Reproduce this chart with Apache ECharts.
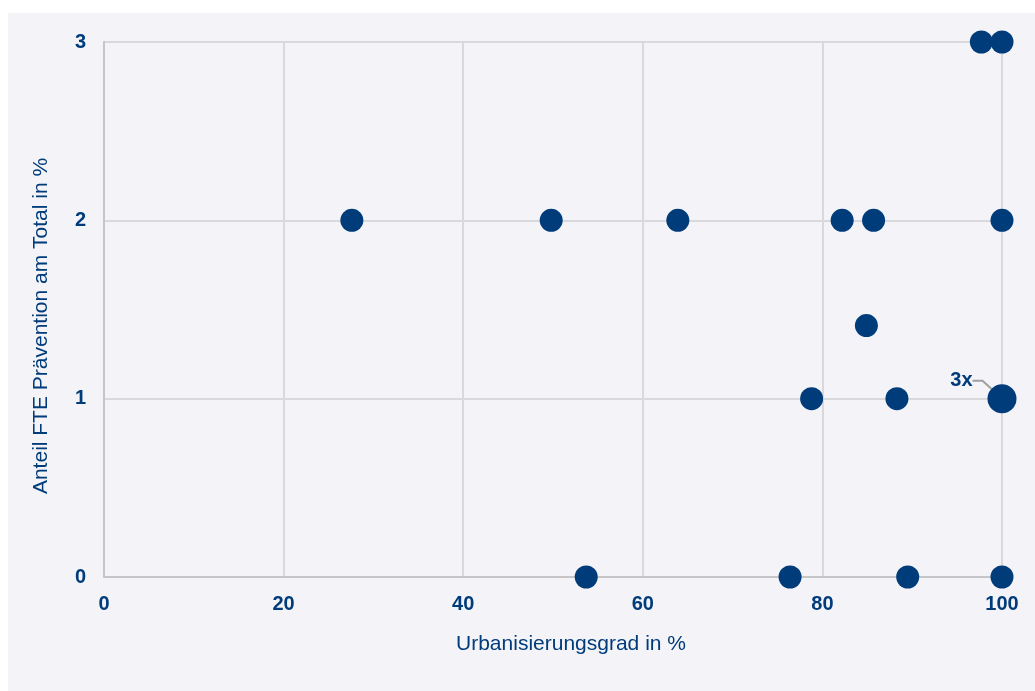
<!DOCTYPE html>
<html>
<head>
<meta charset="utf-8">
<script src="https://cdn.jsdelivr.net/npm/echarts@6/dist/echarts.min.js"></script>
<style>
    html, body { margin: 0; padding: 0; background: #ffffff; }
    #box { position: absolute; left: 8px; top: 13px; width: 1027px; height: 678px; }
</style>
</head>
<body>
<div id="box"></div>
<script>
// Urbanisierungsgrad vs. Anteil FTE Prävention ------------------------------------------
var urbanisierung = [97.7, 100, 27.6, 49.8, 63.9, 82.2, 85.7, 100, 84.9, 78.8, 88.3, 100, 53.7, 76.4, 89.5, 100];
var anteilFte = [3, 3, 2, 2, 2, 2, 2, 2, 1.41, 1, 1, 1, 0, 0, 0, 0];
var anzahl = [1, 1, 1, 1, 1, 1, 1, 1, 1, 1, 1, 3, 1, 1, 1, 1];   // Anzahl überlagerter Punkte
var xTicks = [0, 20, 40, 60, 80, 100];
var yTicks = [0, 1, 2, 3];

var blau = '#003b7a';
var fontFam = '"Liberation Sans", Arial, sans-serif';

var punkte = urbanisierung.map(function (x, i) {
    var item = { value: [x, anteilFte[i], anzahl[i]] };
    if (anzahl[i] > 1) {
        item.label = {
            show: true,
            position: 'left',
            formatter: anzahl[i] + 'x',
            color: blau,
            fontWeight: 'bold',
            fontSize: 20,
            fontFamily: fontFam,
            padding: [0, 10, 0, 0]
        };
        item.labelLine = {
            show: true,
            length2: 10,
            lineStyle: { color: '#a0a0a0', width: 2 }
        };
    }
    return item;
});

var myChart = echarts.init(document.getElementById('box'));
var option = {
    backgroundColor: '#f3f3f8',
    animation: false,
    grid: {
        left: 96,
        right: 33,
        top: 29,
        bottom: 114
    },
    xAxis: {
        type: 'value',
        min: xTicks[0],
        max: xTicks[xTicks.length - 1],
        interval: xTicks[1] - xTicks[0],
        name: 'Urbanisierungsgrad in %',
        nameLocation: 'middle',
        nameGap: 57,
        nameTextStyle: { color: blau, fontSize: 21, fontFamily: fontFam, padding: [0, 0, 0, 36] },
        axisLine: { show: true, lineStyle: { color: '#c6c6c8', width: 2 } },
        axisTick: { show: false },
        axisLabel: { color: blau, fontWeight: 'bold', fontSize: 20, fontFamily: fontFam, margin: 17 },
        splitLine: { show: true, lineStyle: { color: '#d9d9dc', width: 2 } }
    },
    yAxis: {
        type: 'value',
        min: yTicks[0],
        max: yTicks[yTicks.length - 1],
        interval: 1,
        name: 'Anteil FTE Prävention am Total in %',
        nameLocation: 'middle',
        nameGap: 52,
        nameTextStyle: { color: blau, fontSize: 21, fontFamily: fontFam, padding: [0, 33, 0, 0] },
        axisLine: { show: true, lineStyle: { color: '#c6c6c8', width: 2 } },
        axisTick: { show: false },
        axisLabel: { color: blau, fontWeight: 'bold', fontSize: 20, fontFamily: fontFam, margin: 18 },
        splitLine: { show: true, lineStyle: { color: '#d9d9dc', width: 2 } }
    },
    series: [
        {
            type: 'scatter',
            data: punkte,
            symbolSize: function (val) {
                return val[2] > 1 ? 29 : 23;
            },
            itemStyle: { color: blau, opacity: 1 },
            labelLayout: { dx: 0, dy: -18 },
            z: 3
        }
    ]
};

option && myChart.setOption(option);
</script>
</body>
</html>
